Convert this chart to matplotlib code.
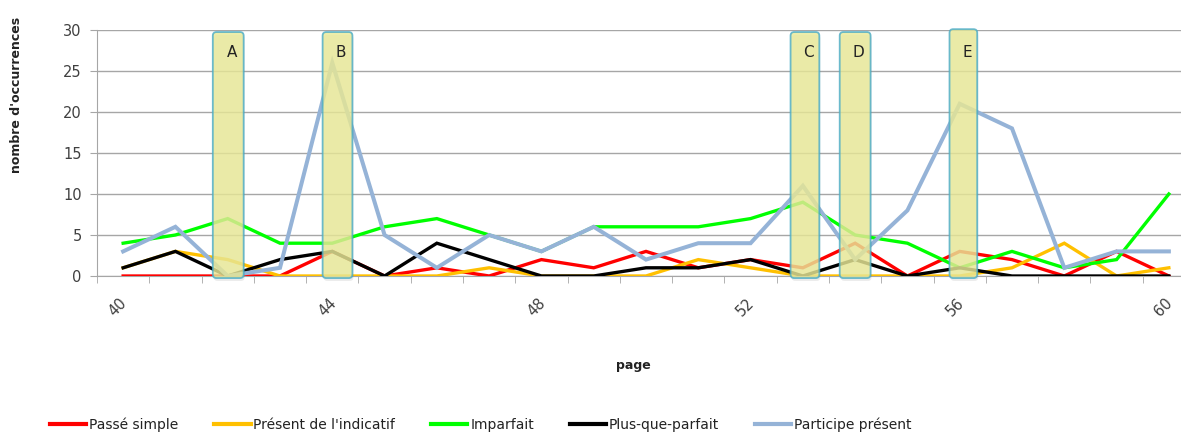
import matplotlib
matplotlib.use("Agg")
import matplotlib.pyplot as plt
from matplotlib.patches import FancyBboxPatch
from matplotlib.transforms import ScaledTranslation
import numpy as np

# Pages and occurrence counts per verb tense
pages = list(range(40, 61))
passe_simple = [0, 0, 0, 0, 3, 0, 1, 0, 2, 1, 3, 1, 2, 1, 4, 0, 3, 2, 0, 3, 0]
present_indicatif = [1, 3, 2, 0, 0, 0, 0, 1, 0, 0, 0, 2, 1, 0, 0, 0, 0, 1, 4, 0, 1]
imparfait = [4, 5, 7, 4, 4, 6, 7, 5, 3, 6, 6, 6, 7, 9, 5, 4, 1, 3, 1, 2, 10]
plus_que_parfait = [1, 3, 0, 2, 3, 0, 4, 2, 0, 0, 1, 1, 2, 0, 2, 0, 1, 0, 0, 0, 0]
participe_present = [3, 6, 0, 1, 26, 5, 1, 5, 3, 6, 2, 4, 4, 11, 2, 8, 21, 18, 1, 3, 3]

series_labels = ["Passé simple", "Présent de l'indicatif", "Imparfait",
                 "Plus-que-parfait", "Participe présent"]
x_tick_labels = ["40", "44", "48", "52", "56", "60"]

# Highlighted passages: label, centre page, width (in pages)
zone_labels = ["A", "B", "C", "D", "E"]
zone_centres = [42.01, 44.1, 53.04, 54.0, 56.07]
zone_widths = [0.59, 0.57, 0.55, 0.59, 0.53]

W, H = 1181, 433
fig = plt.figure(figsize=(W / 100, H / 100), dpi=100)
ax = fig.add_axes([97 / W, 1 - 276 / H, (1195 - 97) / W, (276 - 30) / H])

colors = ["#ff0000", "#ffc000", "#00ff00", "#000000", "#95b3d7"]
widths = [2.4, 2.4, 2.4, 2.4, 2.9]
all_series = [passe_simple, present_indicatif, imparfait, plus_que_parfait, participe_present]
for vals, lab, c, lw in zip(all_series, series_labels, colors, widths):
    ax.plot(pages, vals, color=c, lw=lw, label=lab, solid_joinstyle="miter", zorder=3)

ax.set_xlim(39.5, 60.5)
ax.set_ylim(0, 30)

# Grid and axes styling
ax.set_yticks(np.arange(0, 31, 5))
ax.yaxis.grid(True, color="#a6a6a6", lw=1.0)
ax.set_axisbelow(True)
for s in ["top", "right"]:
    ax.spines[s].set_visible(False)
ax.spines["left"].set_color("#a6a6a6")
ax.spines["bottom"].set_color("#a6a6a6")
ax.tick_params(axis="y", length=5, color="#a6a6a6", labelsize=10.5,
               labelcolor="#404040", pad=6)

ax.set_xticks([int(t) for t in x_tick_labels])
ax.set_xticklabels(x_tick_labels, rotation=45, fontsize=10.5, color="#404040")
ax.tick_params(axis="x", which="major", length=0, pad=14)
shift = ScaledTranslation(-5 / 100, 0, fig.dpi_scale_trans)
for t in ax.get_xticklabels():
    t.set_transform(t.get_transform() + shift)
ax.set_xticks(np.arange(39.5, 61, 1), minor=True)
ax.tick_params(axis="x", which="minor", length=5, color="#a6a6a6")

# Highlight boxes
px_x = ax.get_position().width * W / 21.0
px_y = ax.get_position().height * H / 30.0
aspect = px_x / px_y
for lab, c, w in zip(zone_labels, zone_centres, zone_widths):
    top = 30.1 if lab == "E" else 29.75
    bottom = -0.25
    shadow = FancyBboxPatch((c - w / 2 + 0.02, bottom - 0.35), w, top - bottom,
                            boxstyle="round,pad=0,rounding_size=0.07",
                            mutation_aspect=aspect, fc="#000000", ec="none",
                            alpha=0.08, zorder=4, clip_on=False)
    ax.add_patch(shadow)
    box = FancyBboxPatch((c - w / 2, bottom), w, top - bottom,
                         boxstyle="round,pad=0,rounding_size=0.07",
                         mutation_aspect=aspect, fc="#eaea98", ec="#4bacc6",
                         lw=1.3, alpha=0.82, zorder=5, clip_on=False)
    ax.add_patch(box)
    ax.text(c + 0.07, 27.3, lab, ha="center", va="center", fontsize=11,
            color="#222222", zorder=6)

fig.text(17 / W, 1 - 95 / H, "nombre d'occurrences", rotation=90, ha="center",
         va="center", fontsize=9, fontweight="bold", color="#222222")
fig.text(633 / W, 1 - 366 / H, "page", ha="center", va="center", fontsize=9,
         fontweight="bold", color="#222222")

handles, labels = ax.get_legend_handles_labels()
leg = fig.legend(handles, labels, loc="center", ncol=5,
                 bbox_to_anchor=(481 / W, 1 - 425 / H), frameon=False,
                 fontsize=10, handlelength=2.6, handletextpad=0.2,
                 columnspacing=2.6)
for h in leg.get_lines():
    h.set_linewidth(3)
for t in leg.get_texts():
    t.set_color("#222222")

fig.savefig("out.png", dpi=100)
